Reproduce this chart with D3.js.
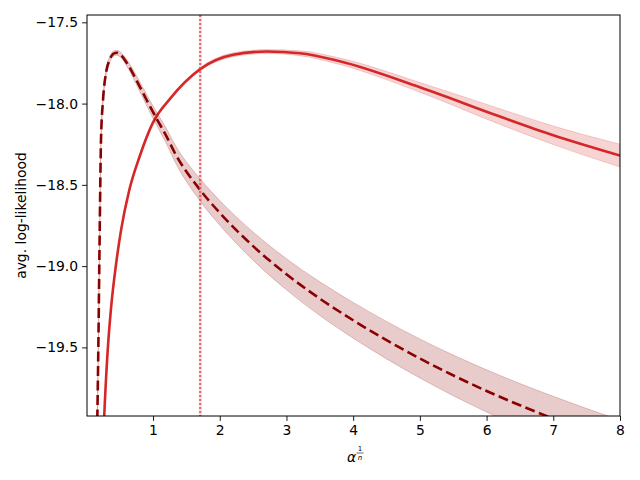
<!DOCTYPE html>
<html><head><meta charset="utf-8">
<script src="https://cdn.jsdelivr.net/npm/d3@7"></script>
<style>body{margin:0;background:#fff}svg{display:block}text{font-family:"DejaVu Sans",sans-serif}</style>
</head><body><svg id="c" width="640" height="480"></svg>
<script>
// Solid series (tab:red): x, mean, half-width of band
const solidX = [0.25, 0.27, 0.32, 0.37, 0.445, 0.52, 0.645, 0.795, 0.995, 1.255, 1.7, 2.2, 2.7, 3.2, 3.8, 5.0, 6.2, 7.0, 8.0];
const solidY = [-20.1, -19.905, -19.52, -19.26, -18.99, -18.78, -18.53, -18.33, -18.12, -17.97, -17.79, -17.70, -17.68, -17.69, -17.74, -17.90, -18.08, -18.195, -18.32];
const solidErr = [0.02, 0.02, 0.02, 0.02, 0.015, 0.015, 0.012, 0.01, 0.01, 0.01, 0.01, 0.012, 0.012, 0.015, 0.02, 0.03, 0.048, 0.057, 0.07];
// Dashed series (darkred)
const dashX = [0.15, 0.18, 0.2, 0.22, 0.25, 0.3, 0.35, 0.4, 0.45, 0.5, 0.6, 0.75, 0.9, 1.05, 1.2, 1.33, 1.7, 2.0, 2.5, 3.0, 3.5, 4.0, 5.0, 6.0, 7.0, 8.0];
const dashY = [-20.3, -19.5, -18.8, -18.22, -17.98, -17.8, -17.73, -17.695, -17.687, -17.695, -17.745, -17.855, -17.975, -18.09, -18.2, -18.306, -18.528, -18.672, -18.877, -19.05, -19.2, -19.333, -19.568, -19.768, -19.938, -20.088];
const dashErr = [0.02, 0.02, 0.02, 0.02, 0.02, 0.02, 0.018, 0.016, 0.015, 0.016, 0.02, 0.028, 0.034, 0.04, 0.047, 0.053, 0.068, 0.076, 0.087, 0.096, 0.104, 0.11, 0.12, 0.13, 0.137, 0.14];
const vlineX = 1.707;
const xTicks = [1, 2, 3, 4, 5, 6, 7, 8];
const yTicks = [-17.5, -18.0, -18.5, -19.0, -19.5];
const xDomain = [0.01, 8];
const yDomain = [-19.922, -17.455];

const svg = d3.select("#c");
const L = 87, R = 620, T = 15, B = 416;
const x = d3.scaleLinear().domain(xDomain).range([L, R]);
const y = d3.scaleLinear().domain(yDomain).range([B, T]);

svg.append("defs").append("clipPath").attr("id","clip")
  .append("rect").attr("x",L).attr("y",T).attr("width",R-L).attr("height",B-T);
const g = svg.append("g").attr("clip-path","url(#clip)");

function series(X, Y, E, color, dash) {
  const d = X.map((v,i)=>({x:v, y:Y[i], e:E[i]}));
  const area = d3.area().curve(d3.curveMonotoneX)
    .x(p=>x(p.x)).y0(p=>y(p.y-p.e)).y1(p=>y(p.y+p.e));
  g.append("path").datum(d).attr("d", area)
    .attr("fill", color).attr("fill-opacity", 0.2)
    .attr("stroke", color).attr("stroke-opacity", 0.2).attr("stroke-width", 1);
  const line = d3.line().curve(d3.curveMonotoneX).x(p=>x(p.x)).y(p=>y(p.y));
  const p = g.append("path").datum(d).attr("d", line)
    .attr("fill","none").attr("stroke", color).attr("stroke-width", 2.6);
  if (dash) p.attr("stroke-dasharray", "10,4.5");
}
series(solidX, solidY, solidErr, "#d62728", false);
series(dashX, dashY, dashErr, "#8b0000", true);

// vertical dotted line
g.append("line").attr("x1", x(vlineX)).attr("x2", x(vlineX)).attr("y1", T).attr("y2", B)
  .attr("stroke", "#d62728").attr("stroke-opacity", 0.15).attr("stroke-width", 3);
g.append("line").attr("x1", x(vlineX)).attr("x2", x(vlineX)).attr("y1", T).attr("y2", B)
  .attr("stroke", "#e0484a").attr("stroke-opacity", 0.75).attr("stroke-width", 2.2)
  .attr("stroke-dasharray", "2,2");

// axes
const fmt = d => d3.format(".1f")(d).replace("-", "\u2212");
const xa = svg.append("g").attr("transform", `translate(0,${B})`)
  .call(d3.axisBottom(x).tickValues(xTicks).tickSize(4.9).tickPadding(4).tickFormat(d3.format("d")));
const ya = svg.append("g").attr("transform", `translate(${L},0)`)
  .call(d3.axisLeft(y).tickValues(yTicks).tickSize(4.9).tickPadding(4).tickFormat(fmt));
[xa, ya].forEach(a => {
  a.select(".domain").remove();
  a.selectAll("line").attr("stroke", "#000").attr("stroke-width", 0.9);
  a.selectAll("text").attr("font-size", "13.9px").attr("fill", "#000")
    .attr("font-family", "DejaVu Sans, sans-serif");
});
svg.append("rect").attr("x", L).attr("y", T).attr("width", R-L).attr("height", B-T)
  .attr("fill", "none").attr("stroke", "#000").attr("stroke-width", 1);

// y label
svg.append("text").attr("transform", `translate(26,${(T+B)/2}) rotate(-90)`)
  .attr("text-anchor", "middle").attr("font-size", "13.9px").text("avg. log-likelihood");

// x label: alpha^(1/n)
const xl = svg.append("g");
xl.append("text").attr("x", 347).attr("y", 462).attr("font-size", "13.9px")
  .attr("font-style", "italic").text("α");
xl.append("text").attr("x", 360).attr("y", 451).attr("font-size", "7px")
  .attr("text-anchor", "middle").text("1");
xl.append("line").attr("x1", 356.5).attr("x2", 363.5).attr("y1", 453).attr("y2", 453)
  .attr("stroke", "#000").attr("stroke-width", 0.6);
xl.append("text").attr("x", 360).attr("y", 460).attr("font-size", "7px")
  .attr("font-style", "italic").attr("text-anchor", "middle").text("n");
</script></body></html>
